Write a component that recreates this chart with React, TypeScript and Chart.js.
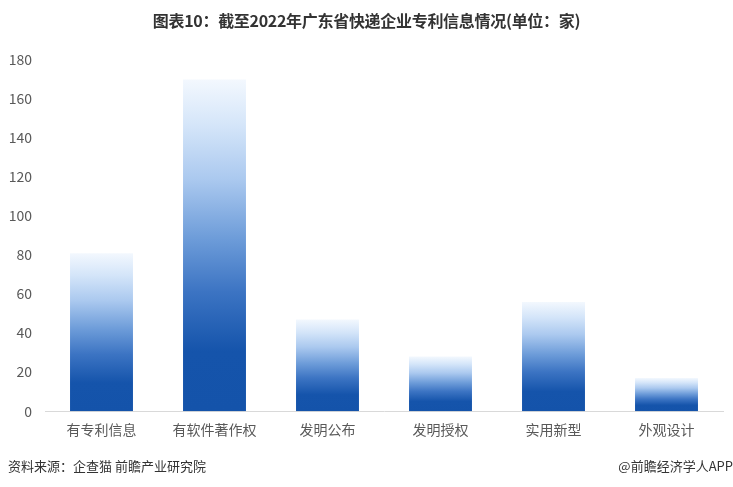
import React, { useEffect, useRef } from "react";
import { Chart, registerables } from "chart.js";

Chart.register(...registerables);

const categories = ["有专利信息", "有软件著作权", "发明公布", "发明授权", "实用新型", "外观设计"];
const values = [81, 170, 47, 28, 56, 17];
const yTicks = [0, 20, 40, 60, 80, 100, 120, 140, 160, 180];

const titleText = "图表10：截至2022年广东省快递企业专利信息情况(单位：家)";
const sourceText = "资料来源：企查猫 前瞻产业研究院";
const brandText = "@前瞻经济学人APP";

const FONT = "'Noto Sans CJK SC', 'Noto Sans', sans-serif";

export default function App() {
  const canvasRef = useRef<HTMLCanvasElement | null>(null);

  useEffect(() => {
    const canvas = canvasRef.current;
    if (!canvas) return;
    const chart = new Chart(canvas, {
      type: "bar",
      data: {
        labels: categories,
        datasets: [
          {
            data: values,
            barPercentage: 0.557,
            categoryPercentage: 1,
            backgroundColor: (ctx: any) => {
              const c = ctx.chart;
              if (!c.chartArea || !c.scales.y) return "#1554ab";
              const ys = c.scales.y;
              const v = ctx.raw as number;
              const top = ys.getPixelForValue(v);
              const bottom = ys.getPixelForValue(0);
              const g = c.ctx.createLinearGradient(0, bottom, 0, top);
              g.addColorStop(0, "#1453aa");
              g.addColorStop(0.18, "#1554ab");
              g.addColorStop(0.36, "#3c74c3");
              g.addColorStop(0.52, "#6d9cd9");
              g.addColorStop(0.7, "#abc9ef");
              g.addColorStop(0.86, "#d4e5f9");
              g.addColorStop(1, "#f3f8fe");
              return g;
            },
          },
        ],
      },
      options: {
        animation: false,
        responsive: false,
        maintainAspectRatio: false,
        layout: { padding: { top: 60, right: 10, bottom: 47, left: 0 } },
        plugins: {
          legend: { display: false },
          title: { display: false },
          tooltip: { enabled: false },
        },
        scales: {
          x: {
            grid: { display: false },
            border: { display: true, color: "#d9d9d9", width: 1 },
            ticks: {
              color: "#595959",
              font: { family: FONT, size: 14 },
              padding: 2,
            },
          },
          y: {
            min: 0,
            max: 180,
            afterBuildTicks: (axis: any) => {
              axis.ticks = yTicks.map((v) => ({ value: v }));
            },
            afterFit: (axis: any) => {
              axis.width = 45;
            },
            grid: { display: false, drawTicks: false },
            border: { display: false },
            ticks: {
              color: "#595959",
              font: { family: FONT, size: 14 },
              padding: 13,
            },
          },
        },
      },
    });
    return () => chart.destroy();
  }, []);

  return (
    <div
      style={{
        position: "fixed",
        left: 0,
        top: 0,
        width: 733,
        height: 487,
        background: "#ffffff",
        fontFamily: FONT,
        overflow: "hidden",
      }}
    >
      <canvas
        ref={canvasRef}
        width={733}
        height={487}
        style={{ position: "absolute", left: 0, top: 0, width: 733, height: 487 }}
      />
      <div
        style={{
          position: "absolute",
          left: 0,
          top: 8,
          width: 733,
          textAlign: "center",
          fontSize: 16,
          fontWeight: "bold",
          color: "#333333",
          lineHeight: "24px",
          letterSpacing: "-0.3px",
        }}
      >
        {titleText}
      </div>
      <div
        style={{
          position: "absolute",
          left: 8,
          top: 457,
          fontSize: 13,
          color: "#333333",
          lineHeight: "18px",
        }}
      >
        {sourceText}
      </div>
      <div
        style={{
          position: "absolute",
          right: 0,
          top: 457,
          fontSize: 13,
          color: "#333333",
          lineHeight: "18px",
        }}
      >
        {brandText}
      </div>
    </div>
  );
}
